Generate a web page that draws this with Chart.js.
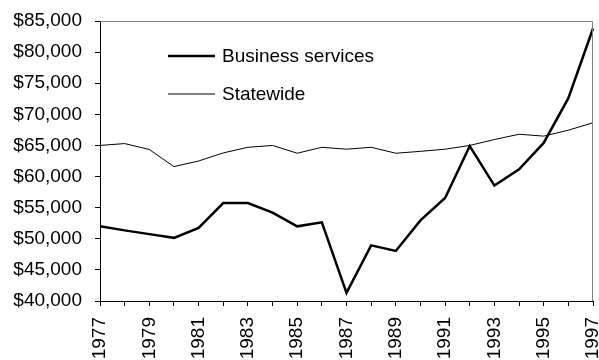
<!DOCTYPE html>
<html>
<head>
<meta charset="utf-8">
<script src="https://cdn.jsdelivr.net/npm/chart.js@4"></script>
<style>
  html, body { margin: 0; padding: 0; background: #fff; }
  #wrap { width: 599px; height: 360px; }
</style>
</head>
<body>
<div id="wrap"><canvas id="myChart" width="599" height="360"></canvas></div>
<script>
// data
var years = ['1977','1978','1979','1980','1981','1982','1983','1984','1985','1986','1987',
             '1988','1989','1990','1991','1992','1993','1994','1995','1996','1997'];
var businessServices = [52000, 51350, 50750, 50150, 51750, 55750, 55750, 54200, 52000, 52650, 41300,
                        48950, 48050, 52950, 56550, 64900, 58550, 61150, 65400, 72600, 83800];
var statewide = [65000, 65300, 64350, 61600, 62500, 63800, 64700, 65000, 63750, 64700, 64400,
                 64700, 63750, 64050, 64400, 65000, 65950, 66800, 66500, 67450, 68650];
var seriesNames = ['Business services', 'Statewide'];

var fontFamily = '"Liberation Sans", Arial, sans-serif';

// plot box (gray top/right) + legend drawn inside the plot
var boxAndLegend = {
	id: 'boxAndLegend',
	afterDraw: function (chart) {
		var c = chart.ctx, a = chart.chartArea;
		c.save();
		c.strokeStyle = '#808080';
		c.lineWidth = 1;
		c.beginPath();
		c.moveTo(a.left, a.top + 0.5);
		c.lineTo(a.right - 0.5, a.top + 0.5);
		c.lineTo(a.right - 0.5, a.bottom);
		c.stroke();

		var rows = [{ y: 56, w: 2.5 }, { y: 94, w: 1 }];
		c.font = '19px ' + fontFamily;
		c.fillStyle = '#000';
		c.textBaseline = 'middle';
		chart.data.datasets.forEach(function (ds, i) {
			c.strokeStyle = '#000';
			c.lineWidth = rows[i].w;
			c.beginPath();
			c.moveTo(168, rows[i].y);
			c.lineTo(215, rows[i].y);
			c.stroke();
			c.fillText(ds.label, 222, rows[i].y + 1);
		});
		c.restore();
	}
};

var ctx = document.getElementById('myChart');
var myChart = new Chart(ctx, {
	type: 'line',
	data: {
		labels: years,
		datasets: [{
			label: seriesNames[0],
			data: businessServices,
			borderColor: '#000',
			borderWidth: 2.5,
			pointRadius: 0,
			tension: 0,
			fill: false
		}, {
			label: seriesNames[1],
			data: statewide,
			borderColor: '#000',
			borderWidth: 1,
			pointRadius: 0,
			tension: 0,
			fill: false
		}]
	},
	options: {
		responsive: false,
		animation: false,
		layout: { padding: { top: 21, right: 6, left: 0, bottom: 0 } },
		plugins: {
			legend: { display: false },
			tooltip: { enabled: false }
		},
		scales: {
			x: {
				offset: false,
				afterFit: function (s) { s.height = 59; s.paddingLeft = 0; s.paddingRight = 0; },
				grid: { drawOnChartArea: false, drawTicks: true, tickLength: 5, color: '#000' },
				border: { color: '#000', width: 1 },
				ticks: {
					autoSkip: false,
					maxRotation: 90,
					minRotation: 90,
					padding: 11,
					color: '#000',
					font: { family: fontFamily, size: 19 },
					callback: function (v, i) { return i % 2 === 0 ? years[i] : ''; }
				}
			},
			y: {
				min: 40000,
				max: 85000,
				afterFit: function (s) { s.width = 100; s.paddingTop = 0; s.paddingBottom = 0; },
				grid: { drawOnChartArea: false, drawTicks: true, tickLength: 5, color: '#000' },
				border: { color: '#000', width: 1 },
				ticks: {
					stepSize: 5000,
					padding: 13,
					color: '#000',
					font: { family: fontFamily, size: 19 },
					callback: function (v) { return '$' + v.toLocaleString('en-US'); }
				}
			}
		}
	},
	plugins: [boxAndLegend]
});
</script>
</body>
</html>
